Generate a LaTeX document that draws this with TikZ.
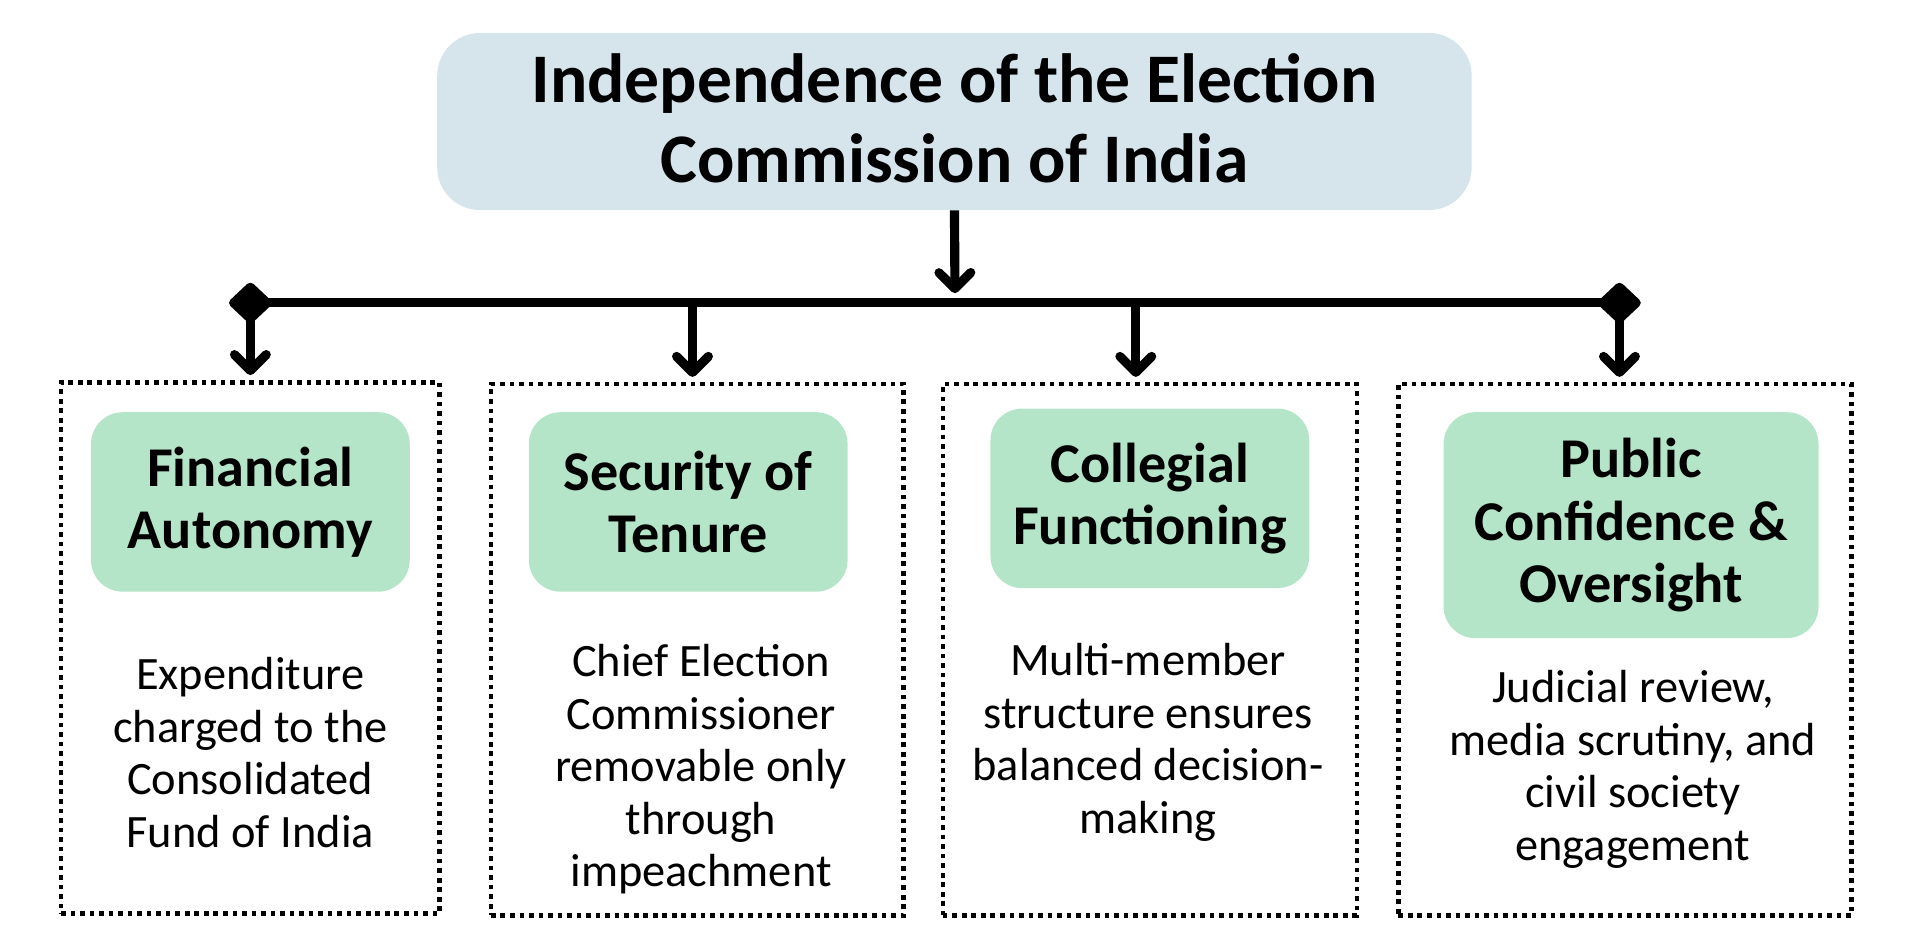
\documentclass[tikz,border=0pt]{standalone}
\usepackage{fontspec}
\setmainfont{Carlito}
\usetikzlibrary{arrows.meta,shapes.geometric}
\definecolor{titleblue}{RGB}{214,228,236}
\definecolor{labelgreen}{RGB}{181,229,200}
\begin{document}
\begin{tikzpicture}[x=1pt,y=-1pt,
  titlebox/.style={rectangle, rounded corners=35pt, fill=titleblue, draw=none,
    minimum width=847pt, minimum height=145pt, align=center, inner sep=0pt,
    font=\fontsize{57}{66}\selectfont\bfseries},
  labelbox/.style={rectangle, rounded corners=26pt, fill=labelgreen, draw=none,
    minimum width=261pt, minimum height=147pt, align=center, inner sep=0pt,
    font=\fontsize{46}{51}\selectfont\bfseries},
  dotbox/.style={rectangle, draw=black, line width=3.8pt, dash pattern=on 3.8pt off 4pt,
    inner sep=0pt},
  bodytext/.style={align=center, inner sep=0pt, font=\fontsize{38}{43}\selectfont},
  diam/.style={diamond, fill=black, draw=black, line width=3pt, rounded corners=2.5pt,
    minimum width=35pt, minimum height=33pt, inner sep=0pt},
  conn/.style={line width=7.5pt, draw=black},
  arr/.style={conn, -{Straight Barb[length=13pt,width=26pt,round]}},
]
\useasboundingbox (0,0) rectangle (1568,776);

% title
\node[titlebox, text depth=6pt] (title) at (781.5,99.5) {Independence of the Election\\Commission of India};

% bar
\node[diam] (dl) at (205,248) {};
\node[diam] (dr) at (1326,248) {};
\coordinate (bm) at (782,248);
\coordinate (b2) at (567,248);
\coordinate (b3) at (930,248);
\draw[conn] (dl.center) -- (dr.center);
\draw[arr, shorten >=8pt] (title.south) -- (bm);

% dotted boxes
\node[dotbox, minimum width=310pt, minimum height=435pt] (box1) at (205,530.5) {};
\node[dotbox, minimum width=338pt, minimum height=435pt] (box2) at (571,532) {};
\node[dotbox, minimum width=339pt, minimum height=435pt] (box3) at (941.5,532) {};
\node[dotbox, minimum width=371pt, minimum height=435pt] (box4) at (1330.5,532) {};

% drops
\draw[arr, shorten >=4pt] (dl.center) -- (dl.center |- box1.north);
\draw[arr, shorten >=4pt] (b2) -- (b2 |- box2.north);
\draw[arr, shorten >=4pt] (b3) -- (b3 |- box3.north);
\draw[arr, shorten >=4pt] (dr.center) -- (dr.center |- box4.north);

% green labels
\node[labelbox] (lab1) at (205,411) {Financial\\Autonomy};
\node[labelbox] (lab2) at (563.5,411) {Security of\\Tenure};
\node[labelbox] (lab3) at (941.5,408) {Collegial\\Functioning};
\node[labelbox, minimum width=307pt, minimum height=185pt] (lab4) at (1335.5,430) {Public\\Confidence \&\\Oversight};

% body texts
\node[bodytext] (txt1) at (205,616) {Expenditure\\charged to the\\Consolidated\\Fund of India};
\node[bodytext] (txt2) at (574,630) {Chief Election\\Commissioner\\removable only\\through\\impeachment};
\node[bodytext] (txt3) at (940,608) {Multi-member\\structure ensures\\balanced decision-\\making};
\node[bodytext] (txt4) at (1337,630) {Judicial review,\\media scrutiny, and\\civil society\\engagement};
\end{tikzpicture}
\end{document}
